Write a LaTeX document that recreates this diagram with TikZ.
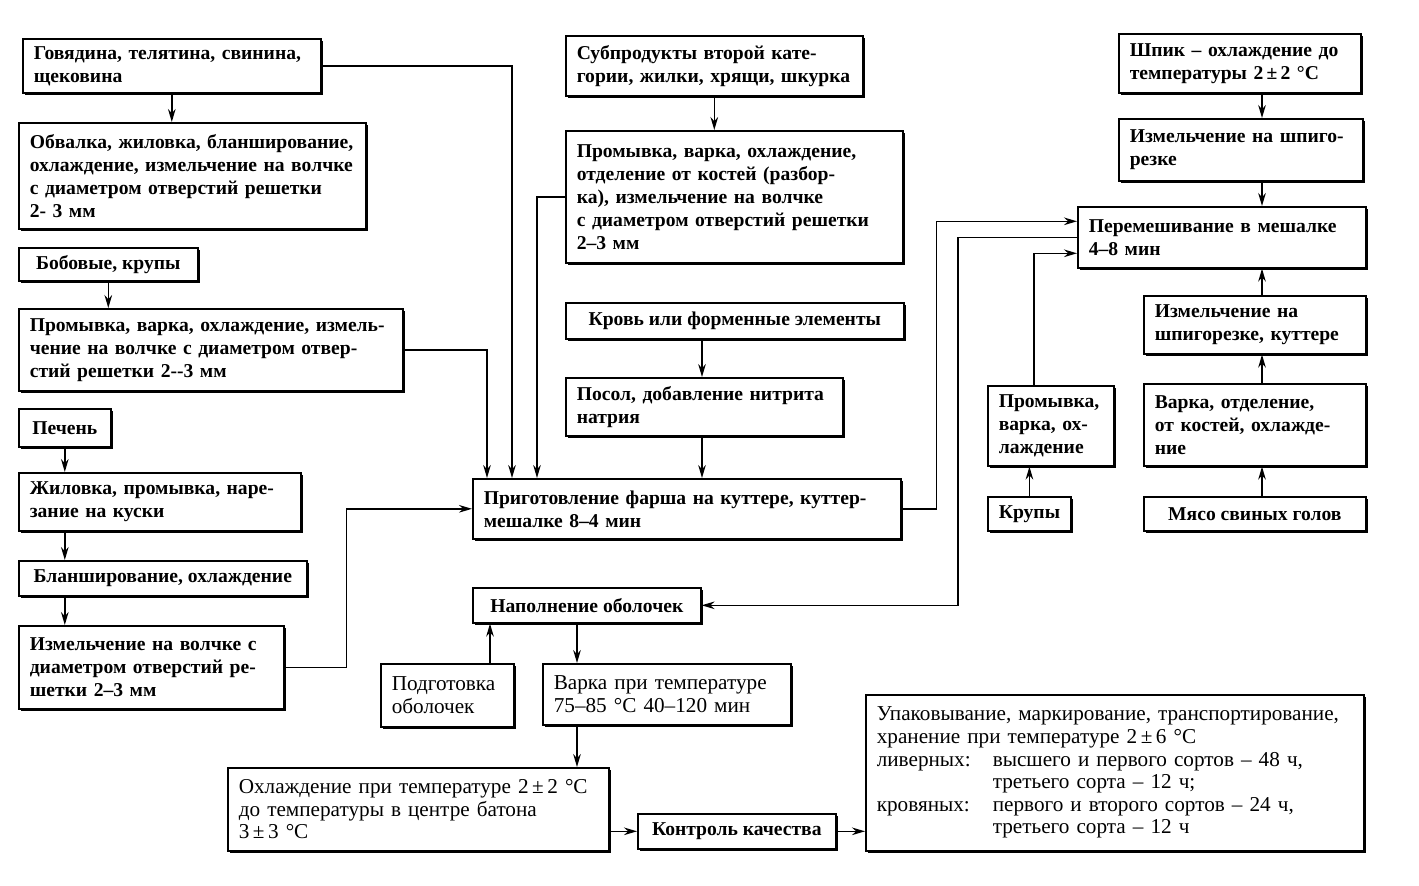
\documentclass[tikz,border=0pt]{standalone}
\usepackage{fontspec}
\setmainfont{Liberation Serif}
\usetikzlibrary{arrows.meta,shadows}
\begin{document}
\begin{tikzpicture}[x=0.5pt,y=-0.5pt,
    box/.style={draw, line width=0.8pt, fill=white, anchor=north west,
      drop shadow={shadow xshift=1.1pt, shadow yshift=-1.1pt, fill=black, opacity=1},
      align=left, inner xsep=5.5pt, inner ysep=2pt,
      font=\fontsize{9.8}{11.5}\selectfont\bfseries},
    light/.style={font=\fontsize{10.6}{11.3}\selectfont},
    arr/.style={line width=0.75pt, -{Stealth[length=6.5pt,width=3.8pt]}}]
   \useasboundingbox (0,0) rectangle (1419,885);
   % left column
   \node[box, text width=138pt, minimum height=27pt] (A1) at (22,38)
      {Говядина, телятина, свинина,\\ щековина};
   \node[box, text width=162.5pt, minimum height=53pt] (A2) at (18,122)
      {Обвалка, жиловка, бланширование,\\ охлаждение, измельчение на волчке\\ с диаметром отверстий решетки\\ 2- 3 мм};
   \node[box, minimum width=89.5pt, minimum height=16.5pt] (B1) at (18,247) {Бобовые, крупы};
   \node[box, text width=181pt, minimum height=41pt] (B2) at (18,308)
      {Промывка, варка, охлаждение, измель-\\ чение на волчке с диаметром отвер-\\ стий решетки 2-{}-3 мм};
   \node[box, minimum width=46pt, minimum height=19pt] (C1) at (18,408) {Печень};
   \node[box, text width=130pt, minimum height=29pt] (C2) at (18,472)
      {Жиловка, промывка, наре-\\ зание на куски};
   \node[box, minimum width=144pt, minimum height=17.5pt] (C3) at (18,560) {Бланширование, охлаждение};
   \node[box, text width=121.5pt, minimum height=41.5pt] (C4) at (18,625)
      {Измельчение на волчке с\\ диаметром отверстий ре-\\ шетки 2–3 мм};
   % middle column
   \node[box, text width=137.5pt, minimum height=30pt] (D1) at (565,35)
      {Субпродукты второй кате-\\ гории, жилки, хрящи, шкурка};
   \node[box, text width=157.5pt, minimum height=66pt] (D2) at (565,130)
      {Промывка, варка, охлаждение,\\ отделение от костей (разбор-\\ ка), измельчение на волчке\\ с диаметром отверстий решетки\\ 2–3 мм};
   \node[box, minimum width=169pt, minimum height=18pt] (E1) at (565,302) {Кровь или форменные элементы};
   \node[box, text width=127.5pt, minimum height=29pt] (E2) at (565,377)
      {Посол, добавление нитрита\\ натрия};
   \node[box, text width=203pt, minimum height=30pt] (F) at (472,478)
      {Приготовление фарша на куттере, куттер-\\ мешалке 8–4 мин};
   % right column
   \node[box, text width=110pt, minimum height=29.5pt] (H1) at (1118,33)
      {Шпик – охлаждение до\\ температуры 2\,±\,2 °C};
   \node[box, text width=111pt, minimum height=31pt] (H2) at (1118,118)
      {Измельчение на шпиго-\\ резке};
   \node[box, text width=133pt, minimum height=30.5pt] (G) at (1077,206)
      {Перемешивание в мешалке\\ 4–8 мин};
   \node[box, text width=52pt, minimum height=40pt] (I) at (987,385)
      {Промывка,\\ варка, ох-\\ лаждение};
   \node[box, minimum width=39pt, minimum height=17pt] (Kr) at (987,496) {Крупы};
   \node[box, text width=100pt, minimum height=29pt] (J3) at (1143,295)
      {Измельчение на\\ шпигорезке, куттере};
   \node[box, text width=100pt, minimum height=41pt] (J2) at (1143,383)
      {Варка, отделение,\\ от костей, охлажде-\\ ние};
   \node[box, minimum width=111pt, minimum height=17pt] (J1) at (1143,496) {Мясо свиных голов};
   % bottom
   \node[box, minimum width=114pt, minimum height=17.5pt] (K) at (472,587) {Наполнение оболочек};
   \node[box, light, text width=55.5pt, minimum height=31.5pt] (L) at (380,663)
      {Подготовка\\ оболочек};
   \node[box, light, text width=113pt, minimum height=30.5pt] (M) at (542,663)
      {Варка при температуре\\ 75–85 °C 40–120 мин};
   \node[box, light, text width=179.5pt, minimum height=41.5pt] (N) at (227,767)
      {Охлаждение при температуре 2\,±\,2 °C\\ до температуры в центре батона\\ 3\,±\,3 °C};
   \node[box, minimum width=99pt, minimum height=17.5pt] (O) at (637,813) {Контроль качества};
   \node[box, light, text width=238pt, minimum height=78pt] (P) at (865,694)
      {Упаковывание, маркирование, транспортирование,\\
       хранение при температуре 2\,±\,6 °C\\
       \makebox[58pt][l]{ливерных:}высшего и первого сортов – 48 ч,\\
       \makebox[58pt][l]{}третьего сорта – 12 ч;\\
       \makebox[58pt][l]{кровяных:}первого и второго сортов – 24 ч,\\
       \makebox[58pt][l]{}третьего сорта – 12 ч};
   % columns of the vertical arrows
   \coordinate (rc) at (1262,0);
   \coordinate (kc) at (577,0);
   \coordinate (lc) at (490,0);
   \coordinate (ec) at (702,0);
   \foreach \u / \v in {A1/A2, B1/B2, C1/C2, D1/D2} {
      \draw[arr] (\u) -- (\u |- \v.north);
   }
   \foreach \u / \v in {C2/C3, C3/C4} {
      \draw[arr] (C1 |- \u.south) -- (C1 |- \v.north);
   }
   \draw[arr] (ec |- E1.south) -- (ec |- E2.north);
   \draw[arr] (ec |- E2.south) -- (ec |- F.north);
   \draw[arr] (A1.east) -| ([xshift=20pt]F.north west);
   \draw[arr] (B2.east) -| ([xshift=7.5pt]F.north west);
   \draw[arr] (D2.west) -| ([xshift=32.5pt]F.north west);
   \draw[arr] (C4.east) -- ++(62,0) |- (F.west);
   % to and from the mixer
   \draw[arr] (rc |- H1.south) -- (rc |- H2.north);
   \draw[arr] (rc |- H2.south) -- (rc |- G.north);
   \foreach \u / \v in {J1/J2, J2/J3, J3/G} {
      \draw[arr] (rc |- \u.north) -- (rc |- \v.south);
   }
   \draw[arr] (Kr) -- (Kr |- I.south);
   \draw[arr] (F.east) -- ++(35,0) |- ([yshift=8pt]G.west);
   \draw[arr] ([xshift=-8.5pt]I.north) |- ([yshift=-8pt]G.west);
   \draw[arr] (G.west) -- ++(-119,0) |- (K.east);
   % casing and cooking
   \draw[arr] (lc |- L.north) -- (lc |- K.south);
   \draw[arr] (kc |- K.south) -- (kc |- M.north);
   \draw[arr] (kc |- M.south) -- (kc |- N.north);
   \draw[arr] (N.east |- O.west) -- (O.west);
   \draw[arr] (O.east) -- (O.east -| P.west);
\end{tikzpicture}
\end{document}
